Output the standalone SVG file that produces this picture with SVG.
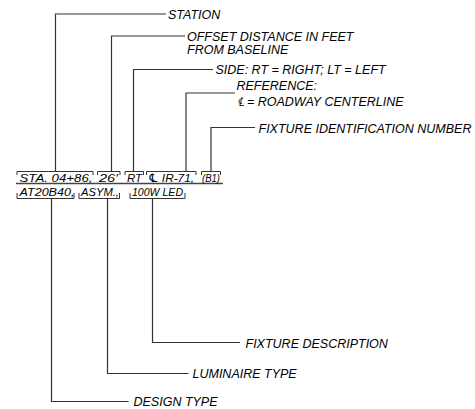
<svg xmlns="http://www.w3.org/2000/svg" width="475" height="409" viewBox="0 0 475 409">
<style>
.lbl{font-family:"Liberation Sans",Arial,sans-serif;font-style:italic;font-size:12.5px;fill:#000}
.row{font-family:"Liberation Sans","DejaVu Sans",Arial,sans-serif;font-style:italic;font-size:11.8px;fill:#000}
.ld{fill:none;stroke:#333;stroke-width:1.2}
.br{fill:none;stroke:#333;stroke-width:1}
</style>
<rect width="475" height="409" fill="#fff"/>
<g id="callout">
<path class="br" d="M17,175 V171.5 H93 V175"/>
<path class="br" d="M97.5,175 V171.5 H120 V175"/>
<path class="br" d="M125,175 V171.5 H143.5 V175"/>
<path class="br" d="M146.5,175 V171.5 H196 V175"/>
<path class="br" d="M201.5,175 V171.5 H220.5 V175"/>
<line x1="16" y1="183.5" x2="223" y2="183.5" stroke="#444" stroke-width="1.6"/>
<path class="br" d="M17,193 V198.5 H74 V193"/>
<path class="br" d="M79,193 V198.5 H119.5 V193"/>
<path class="br" d="M130,193 V198.5 H185 V193"/>
<text class="row" x="19.5" y="181.5" textLength="73" lengthAdjust="spacingAndGlyphs">STA. 04+86,</text>
<text class="row" x="99" y="181.5" textLength="19" lengthAdjust="spacingAndGlyphs">26′</text>
<text class="row" x="127" y="181.5" textLength="15" lengthAdjust="spacingAndGlyphs">RT</text>
<text class="row" x="148" y="181.5" textLength="46" lengthAdjust="spacingAndGlyphs">℄ IR-71,</text>
<text class="row" x="202" y="181.5" textLength="18" lengthAdjust="spacingAndGlyphs">(B1)</text>
<text class="row" x="19.5" y="195.5" textLength="55" lengthAdjust="spacingAndGlyphs">AT20B40,</text>
<text class="row" x="81" y="195.5" textLength="38" lengthAdjust="spacingAndGlyphs">ASYM.,</text>
<text class="row" x="132" y="195.5" textLength="51" lengthAdjust="spacingAndGlyphs">100W LED</text>
</g>
<g id="connectors">
<path class="ld" d="M55.5,171.5 V14 H166"/>
<path class="ld" d="M111.5,171.5 V36 H185"/>
<path class="ld" d="M133.5,171.5 V69.5 H213"/>
<path class="ld" d="M186,171.5 V93 H235"/>
<path class="ld" d="M211,171.5 V127.5 H255"/>
<path class="ld" d="M51.5,198.5 V401.5 H128.5"/>
<path class="ld" d="M107.5,198.5 V373.5 H188.5"/>
<path class="ld" d="M152.5,198.5 V342.5 H240"/>
</g>
<g id="station"><text class="lbl" x="168" y="19">STATION</text></g>
<g id="offset"><text class="lbl" x="187" y="40.5">OFFSET DISTANCE IN FEET</text><text class="lbl" x="187" y="54">FROM BASELINE</text></g>
<g id="side"><text class="lbl" x="215.5" y="74">SIDE: RT = RIGHT; LT = LEFT</text></g>
<g id="reference"><text class="lbl" x="236.5" y="90">REFERENCE:</text><text class="lbl" x="236.5" y="106">℄ = ROADWAY CENTERLINE</text></g>
<g id="fixture-id"><text class="lbl" x="258.5" y="133">FIXTURE IDENTIFICATION NUMBER</text></g>
<g id="fixture-desc"><text class="lbl" x="245.5" y="348">FIXTURE DESCRIPTION</text></g>
<g id="luminaire"><text class="lbl" x="192.5" y="378">LUMINAIRE TYPE</text></g>
<g id="design"><text class="lbl" x="133.5" y="406">DESIGN TYPE</text></g>
</svg>
